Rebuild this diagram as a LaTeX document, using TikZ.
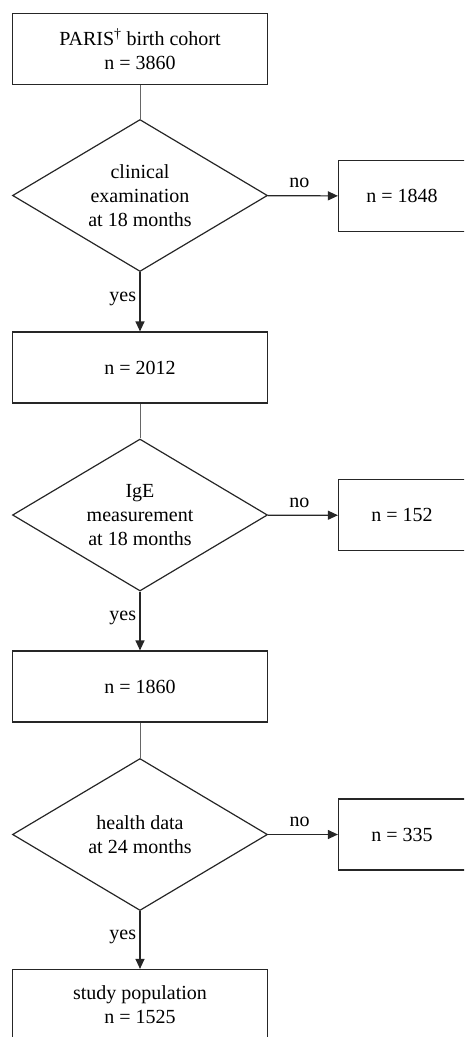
\documentclass[tikz,border=0pt]{standalone}
\usepackage{fontspec}
\setmainfont{Liberation Serif}
\usetikzlibrary{shapes.geometric,arrows.meta}
\begin{document}
\begin{tikzpicture}[x=1pt,y=-1pt,
    font=\fontsize{20}{24}\selectfont,
    box/.style={draw=black!85,line width=1.2pt,minimum width=255pt,minimum height=71pt,align=center,inner sep=0pt},
    side/.style={draw=black!85,line width=1.2pt,minimum width=127pt,minimum height=71pt,inner sep=0pt},
    test/.style={diamond,draw=black!85,line width=1.2pt,aspect=1.68,minimum width=255pt,minimum height=152pt,align=center,inner sep=0pt},
    link/.style={draw=black!60,line width=0.8pt},
    flow/.style={draw=black!85,line width=1.2pt,-{Triangle[length=10pt,width=9pt]}}]
      \useasboundingbox (0,0) rectangle (464,1037);
      \clip (0,0) rectangle (464,1037);
      \path
        (140,49) node[box] (cohort){PARIS\textsuperscript{\textdagger} birth cohort\\n = 3860}
        (140,195.5) node[test] (exam){clinical\\examination\\at 18 months}
        (402,196) node[side] (noexam){n = 1848}
        (140,367.5) node[box] (n2012){n = 2012}
        (140,515) node[test] (ige){IgE\\measurement\\at 18 months}
        (402,515.3) node[side] (noige){n = 152}
        (140,686.5) node[box] (n1860){n = 1860}
        (140,834.5) node[test] (health){health data\\at 24 months}
        (402,834.5) node[side] (nohealth){n = 335}
        (140,1005) node[box] (study){study population\\n = 1525};
      \begin{scope}[link]
        \draw (cohort) to (exam);
        \draw (n2012) to (ige);
        \draw (n1860) to (health);
      \end{scope}
      \begin{scope}[flow]
        \draw (exam) to node[above=4pt,pos=.45]{no} (noexam);
        \draw (exam) to node[left,pos=.45]{yes} (n2012);
        \draw (ige) to node[above=4pt,pos=.45]{no} (noige);
        \draw (ige) to node[left,pos=.45]{yes} (n1860);
        \draw (health) to node[above=4pt,pos=.45]{no} (nohealth);
        \draw (health) to node[left,pos=.45]{yes} (study);
      \end{scope}
    \end{tikzpicture}
\end{document}
